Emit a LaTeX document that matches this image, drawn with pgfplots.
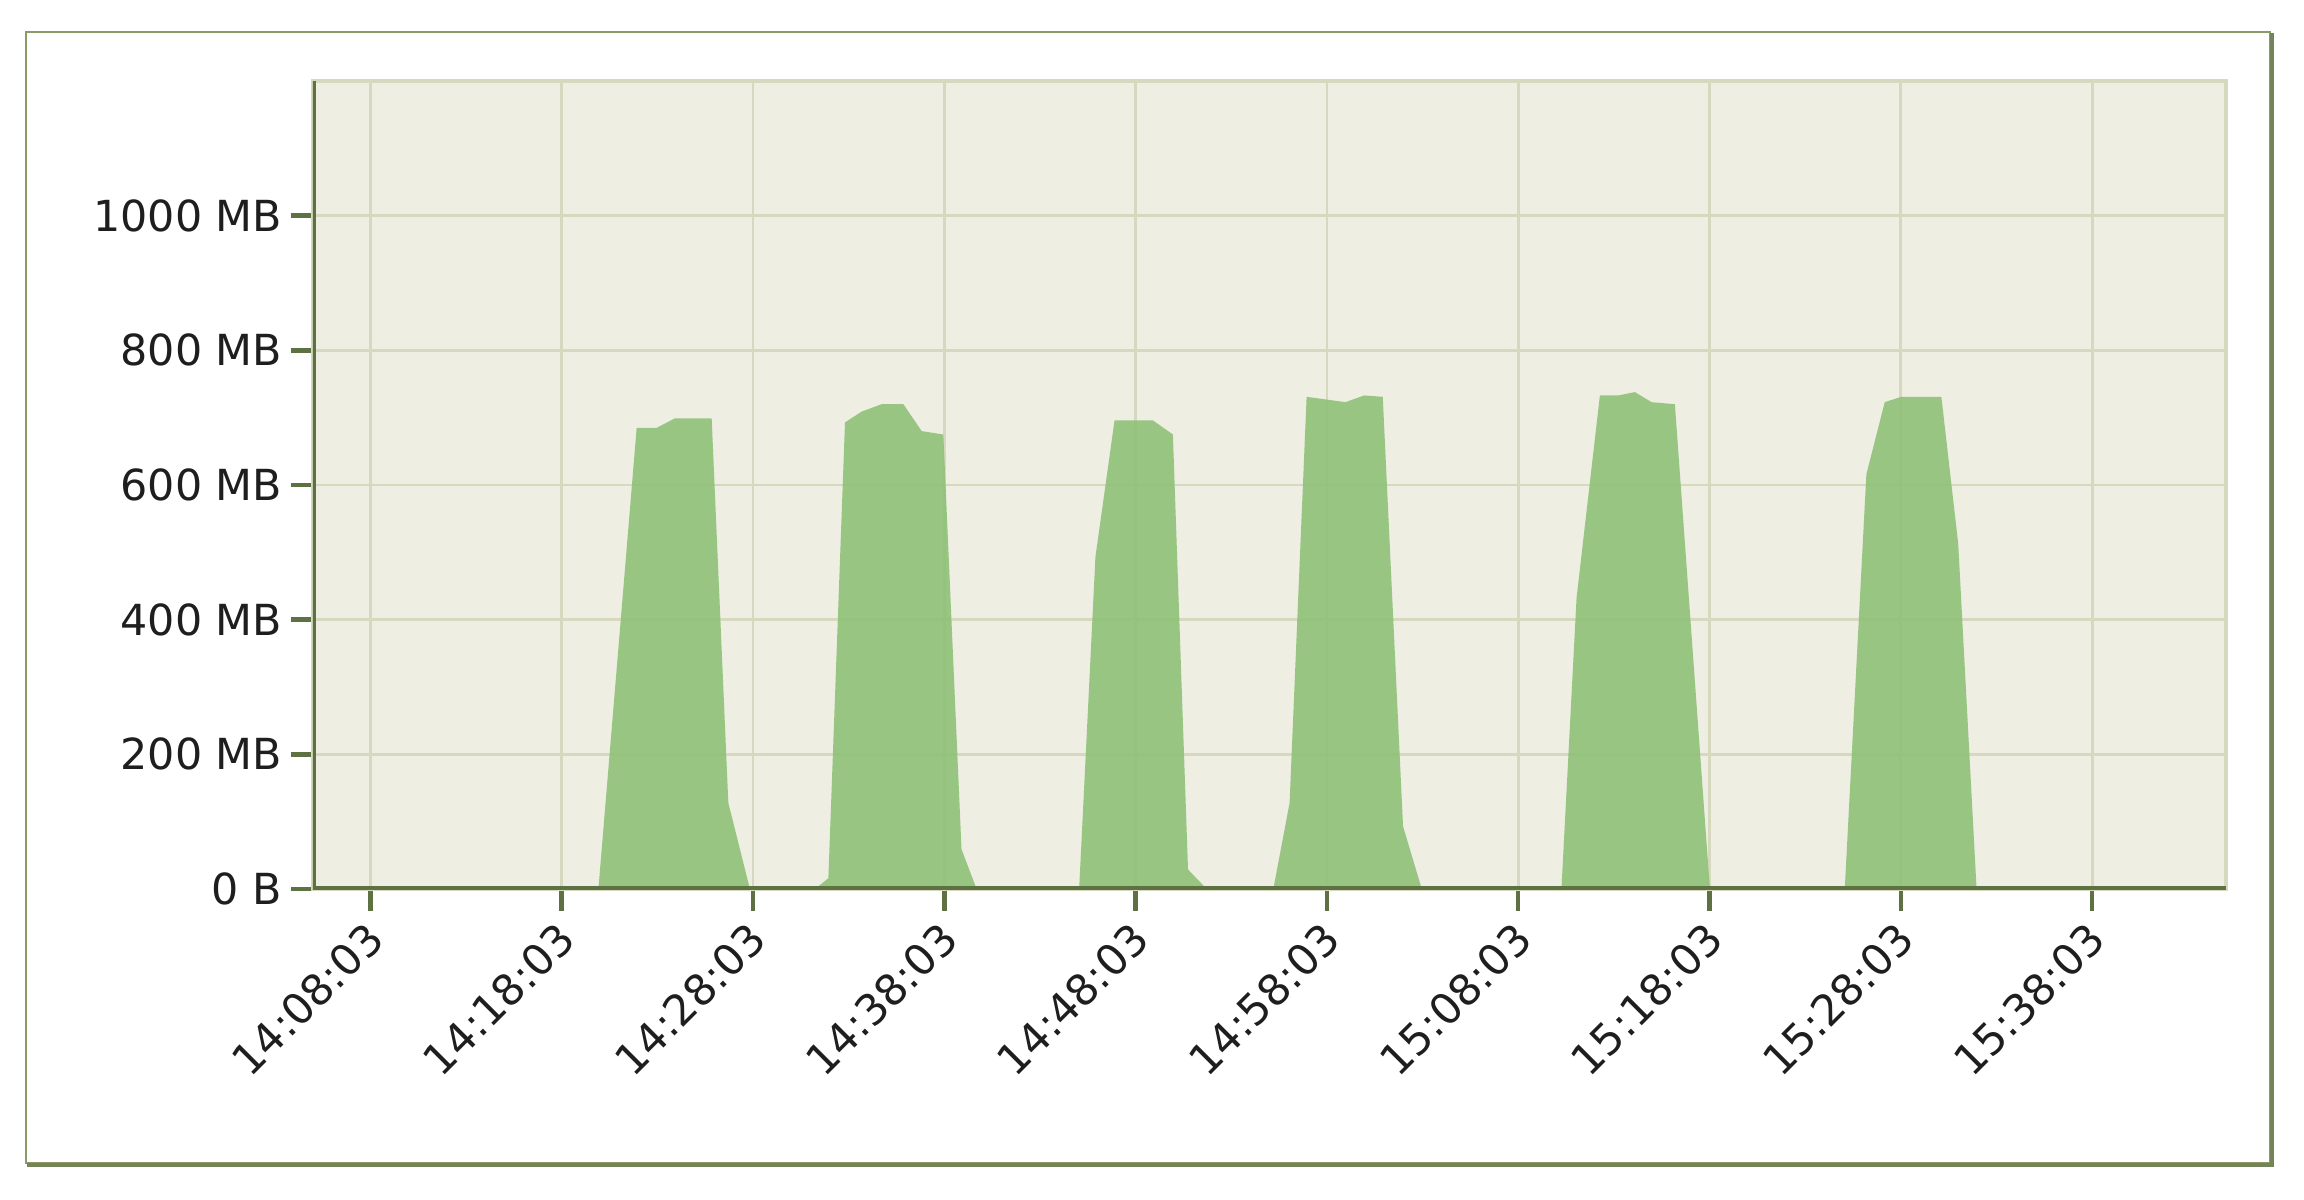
\documentclass[border=0pt]{standalone}
\usepackage{pgfplots}
\pgfplotsset{compat=1.18}
\usepackage{fontspec}
\setmainfont{DejaVu Sans}
\definecolor{bgpanel}{HTML}{EEEEE3}
\definecolor{gridc}{HTML}{D6D9BE}
\definecolor{axisdark}{HTML}{5E7142}
\definecolor{frameol}{HTML}{8A9B68}
\definecolor{areagreen}{HTML}{8FC178}
\definecolor{txt}{HTML}{1E1E1E}

\begin{document}
\begin{tikzpicture}
\path[use as bounding box] (-78.25pt,-77.75pt) rectangle (497.75pt,222.25pt);
\begin{axis}[
  at={(0pt,0pt)}, anchor=south west,
  scale only axis, width=478.25pt, height=202pt,
  xmin=-3, xmax=97, ymin=0, ymax=1200,
  xtick={0,10,...,90},
  xticklabels={14:08:03,14:18:03,14:28:03,14:38:03,14:48:03,14:58:03,15:08:03,15:18:03,15:28:03,15:38:03},
  ytick={0,200,...,1000},
  yticklabels={0 B,200 MB,400 MB,600 MB,800 MB,1000 MB},
  tick align=outside, xtick pos=bottom, ytick pos=left,
  major tick length=5.5pt,
  tick style={axisdark, line width=1.1pt},
  grid=major, major grid style={gridc, line width=0.7pt},
  axis line style={gridc, line width=0.9pt},
  axis background/.style={fill=bgpanel},
  ticklabel style={font=\fontsize{10.7}{12}\selectfont, text=txt},
  xticklabel style={rotate=45, anchor=east, inner sep=1pt, xshift=-1.5pt, yshift=-4.5pt},
  yticklabel style={inner sep=2pt},
]
% memory usage in MB, x = minutes after 14:08:03
\addplot[draw=none, fill=areagreen, fill opacity=0.9] coordinates {
  (-3,0) (11.92,0) (13.92,685) (14.97,685) (15.92,699) (17.84,699) (18.71,128) (19.84,0)
  (23.24,0) (23.94,16) (24.81,693) (25.68,709) (26.72,720) (27.86,720) (28.82,680) (29.95,675) (30.9,59) (31.69,0)
  (37.05,0) (37.9,493) (38.9,696) (40.9,696) (41.95,675) (42.74,29) (43.72,0)
  (47.2,0) (48.05,128) (48.94,731) (50.97,723) (51.95,733) (52.92,731) (53.98,93) (54.96,0)
  (62.26,0) (63.05,432) (64.27,733) (65.23,733) (66.1,738) (66.97,723) (68.19,720) (70.02,0)
  (77.07,0) (78.2,616) (79.16,723) (80.03,731) (82.12,731) (83.0,513) (83.96,0)
  (97,0)
} \closedcycle;
\draw[axisdark, line width=1.3pt] (rel axis cs:0,1) -- (rel axis cs:0,0) -- (rel axis cs:1,0);
\end{axis}
\draw[frameol, line width=0.6pt] (-71.75pt,-68.5pt) rectangle (489.25pt,214.25pt);
\draw[frameol!85!black, line width=1pt] (489.8pt,214pt) -- (489.8pt,-69.05pt) -- (-71.5pt,-69.05pt);
\end{tikzpicture}
\end{document}
